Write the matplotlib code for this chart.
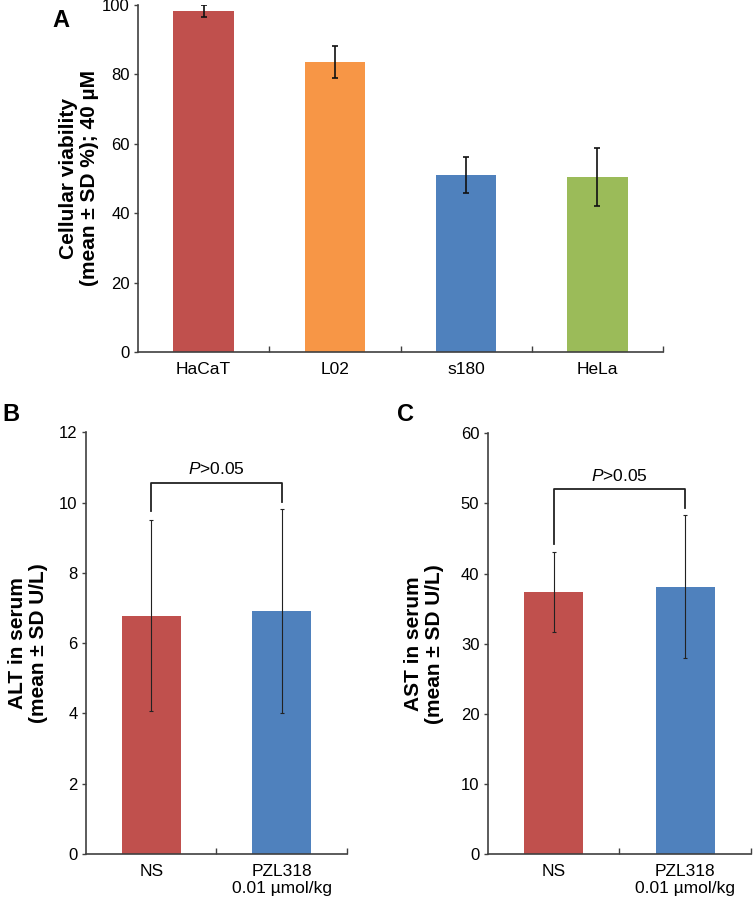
import matplotlib
matplotlib.use("Agg")
import matplotlib.pyplot as plt
import numpy as np

plt.rcParams['font.family'] = ['Liberation Sans', 'DejaVu Sans']
plt.rcParams['mathtext.fontset'] = 'custom'
plt.rcParams['mathtext.it'] = 'Liberation Sans:italic'
plt.rcParams['mathtext.rm'] = 'Liberation Sans'

# panel A
cells = ["HaCaT", "L02", "s180", "HeLa"]
viability = [98.2, 83.6, 51.0, 50.5]
viability_sd = [1.8, 4.7, 5.1, 8.3]
colors_a = ["#C0504D", "#F79646", "#4F81BD", "#9BBB59"]

# panels B and C
groups = ["NS", "PZL318\n0.01 µmol/kg"]
alt = [6.78, 6.92]
alt_sd = [2.72, 2.90]
ast = [37.4, 38.1]
ast_sd = [5.7, 10.2]
colors_bc = ["#C0504D", "#4F81BD"]

AXC = "#404040"


def style_axis(ax, labels, ymax, ystep):
    n = len(labels)
    ax.set_xlim(-0.5, n - 0.5)
    ax.set_ylim(0, ymax)
    ax.set_yticks(np.arange(0, ymax + 0.01, ystep))
    ax.set_xticks(np.arange(0.5, n, 1.0))
    ax.set_xticklabels([])
    ax.set_xticks(np.arange(n), minor=True)
    ax.set_xticklabels(labels, minor=True, fontsize=12.5)
    ax.tick_params(axis='x', which='major', direction='in', length=4, color=AXC, width=1)
    ax.tick_params(axis='x', which='minor', length=0, pad=7)
    ax.tick_params(axis='y', direction='out', length=3, color=AXC, width=1, labelsize=12, pad=3)
    for s in ['top', 'right']:
        ax.spines[s].set_visible(False)
    for s in ['left', 'bottom']:
        ax.spines[s].set_color(AXC)
        ax.spines[s].set_linewidth(1.2)


fig = plt.figure(figsize=(7.53, 9.0), dpi=100)

axA = fig.add_axes([0.1833, 0.6089, 0.6972, 0.3856])
axB = fig.add_axes([0.1142, 0.0511, 0.3466, 0.4686])
axC = fig.add_axes([0.6477, 0.0511, 0.3497, 0.4674])

xa = np.arange(len(cells))
axA.bar(xa, viability, width=0.46, color=colors_a, zorder=2)
axA.errorbar(xa, viability, yerr=viability_sd, fmt='none', ecolor='#111111',
             elinewidth=1.2, capsize=2, capthick=1.2, zorder=3)
style_axis(axA, cells, 100, 20)
axA.set_ylabel("Cellular viability\n(mean ± SD %); 40 µM", fontsize=15,
               fontweight='bold', labelpad=2, linespacing=1.15)

xb = np.arange(len(groups))
for ax, vals, sds, ymax, ystep in [(axB, alt, alt_sd, 12, 2), (axC, ast, ast_sd, 60, 10)]:
    ax.bar(xb, vals, width=0.45, color=colors_bc, zorder=2)
    ax.errorbar(xb, vals, yerr=sds, fmt='none', ecolor='#222222',
                elinewidth=0.8, capsize=1.5, capthick=0.8, zorder=3)
    style_axis(ax, groups, ymax, ystep)

axB.set_ylabel("ALT in serum\n(mean ± SD U/L)", fontsize=15, fontweight='bold',
               labelpad=8, linespacing=1.15)
axC.set_ylabel("AST in serum\n(mean ± SD U/L)", fontsize=15, fontweight='bold',
               labelpad=12, linespacing=1.15)

# significance brackets
for ax, yb, yl, yr in [(axB, 10.57, 9.77, 10.03), (axC, 52.1, 44.2, 49.3)]:
    ax.plot([0, 0, 1, 1], [yl, yb, yb, yr], color='#222222', lw=1.3, zorder=4)
    ax.text(0.5, yb + ax.get_ylim()[1] * 0.012, "$\\it{P}$>0.05", ha='center', va='bottom',
            fontsize=12.5)

# panel letters
fig.text(0.069, 0.99, "A", fontsize=17, fontweight='bold', ha='left', va='top')
fig.text(0.003, 0.552, "B", fontsize=17, fontweight='bold', ha='left', va='top')
fig.text(0.527, 0.552, "C", fontsize=17, fontweight='bold', ha='left', va='top')

fig.savefig("out.png", dpi=100)
